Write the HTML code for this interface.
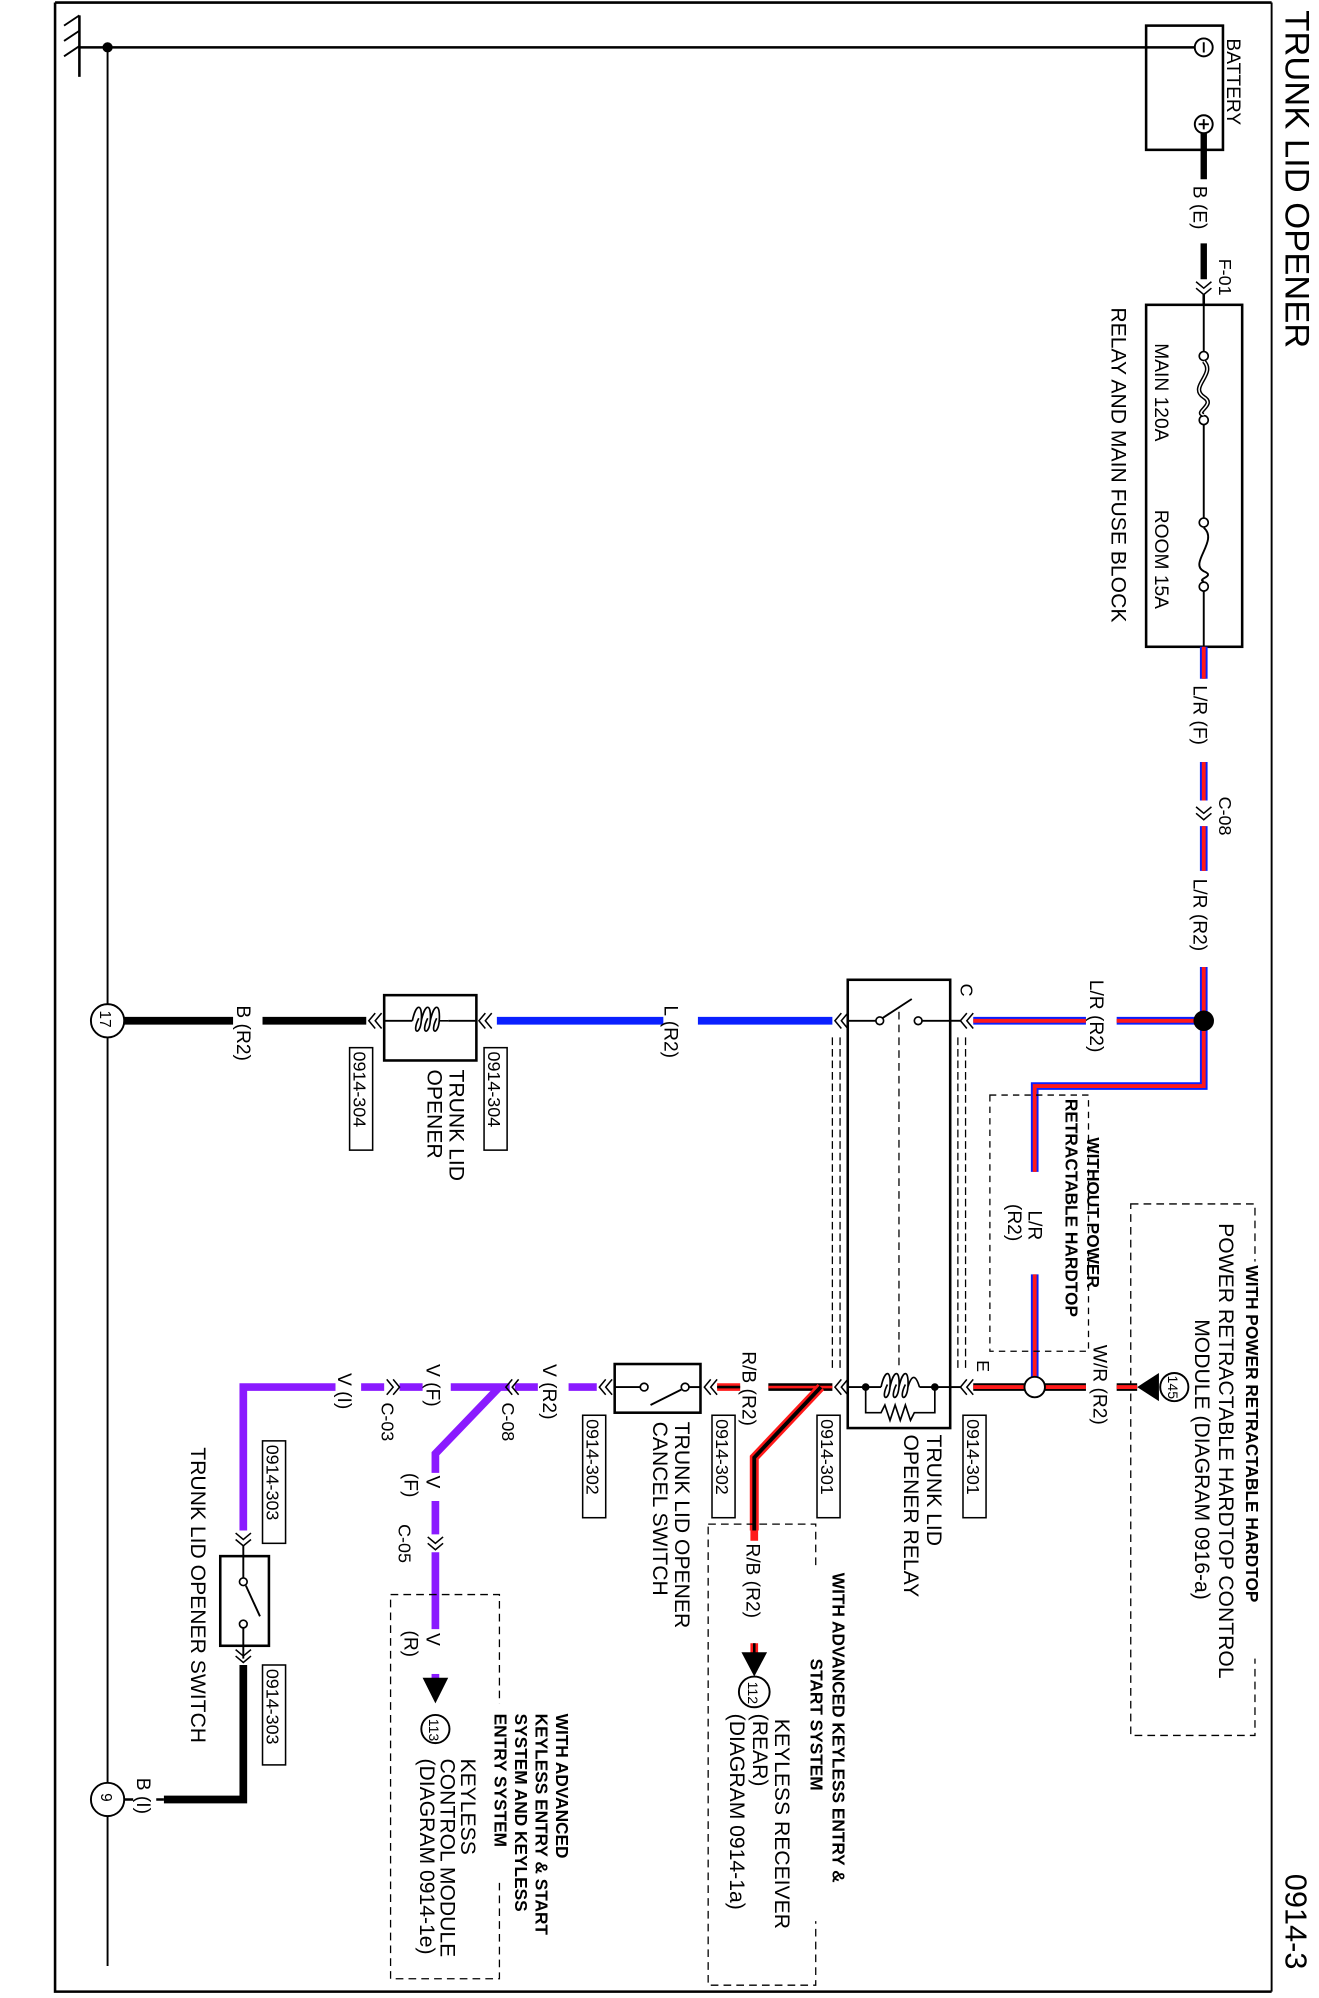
<!DOCTYPE html>
<html><head><meta charset="utf-8"><style>
html,body{margin:0;padding:0;background:#fff;}
svg{display:block;}
text{font-family:"Liberation Sans",sans-serif;fill:#000;}
.b{font-weight:bold;}
</style></head><body>
<svg width="1319" height="1998" viewBox="0 0 1030 1560" preserveAspectRatio="none" xmlns="http://www.w3.org/2000/svg">
<rect x="0" y="0" width="1030" height="1560" fill="#fff"/>
<polyline points="43,2 993,2" stroke="#000" stroke-width="2" fill="none"/>
<polyline points="43,2 43,1555 993,1555" stroke="#000" stroke-width="2" fill="none"/>
<line x1="993" y1="2" x2="993" y2="1555" stroke="#000" stroke-width="1.5"/>
<text transform="translate(1004,8) rotate(90)" font-size="27">TRUNK LID OPENER</text>
<text transform="translate(1004,1463) rotate(90)" font-size="24">0914-3</text>

<line x1="62" y1="12" x2="62" y2="60" stroke="#000" stroke-width="2"/>
<line x1="50" y1="20" x2="62" y2="12" stroke="#000" stroke-width="1.5"/>
<line x1="50" y1="32" x2="62" y2="24" stroke="#000" stroke-width="1.5"/>
<line x1="50" y1="44" x2="62" y2="36" stroke="#000" stroke-width="1.5"/>
<line x1="62" y1="37" x2="940" y2="37" stroke="#000" stroke-width="2"/>
<line x1="84" y1="37" x2="84" y2="1535" stroke="#000" stroke-width="1.5"/>
<circle cx="84" cy="37" r="4" fill="#000"/>

<rect x="895" y="20" width="60" height="97" fill="none" stroke="#000" stroke-width="2"/>
<circle cx="940" cy="37" r="7" fill="#fff" stroke="#000" stroke-width="1.5"/>
<line x1="940" y1="33" x2="940" y2="41" stroke="#000" stroke-width="1.5"/>
<circle cx="940" cy="97" r="7" fill="#fff" stroke="#000" stroke-width="1.5"/>
<line x1="940" y1="93" x2="940" y2="101" stroke="#000" stroke-width="1.5"/>
<line x1="936" y1="97" x2="944" y2="97" stroke="#000" stroke-width="1.5"/>
<text transform="translate(958,30) rotate(90)" font-size="15">BATTERY</text>
<line x1="940" y1="104" x2="940" y2="140" stroke="#000" stroke-width="5"/>
<text transform="translate(932,145) rotate(90)" font-size="15">B (E)</text>
<line x1="940" y1="190" x2="940" y2="218" stroke="#000" stroke-width="5"/>
<path d="M934,220 L940,225 L946,220 M934,225 L940,230 L946,225" fill="none" stroke="#000" stroke-width="1.2"/>
<text transform="translate(952,202) rotate(90)" font-size="14">F-01</text>
<line x1="940" y1="230" x2="940" y2="238" stroke="#000" stroke-width="2"/>

<rect x="895" y="238" width="75" height="267" fill="none" stroke="#000" stroke-width="2"/>
<line x1="940" y1="238" x2="940" y2="275" stroke="#000" stroke-width="1.5"/>
<line x1="940" y1="330" x2="940" y2="405" stroke="#000" stroke-width="1.5"/>
<line x1="940" y1="460" x2="940" y2="505" stroke="#000" stroke-width="1.5"/>
<circle cx="940" cy="278" r="3.5" fill="#fff" stroke="#000" stroke-width="1.3"/>
<circle cx="940" cy="328" r="3.5" fill="#fff" stroke="#000" stroke-width="1.3"/>
<path d="M940,282 C950,292 928,302 940,310 C950,316 932,322 940,324" fill="none" stroke="#000" stroke-width="3.5"/>
<path d="M940,282 C950,292 928,302 940,310 C950,316 932,322 940,324" fill="none" stroke="#fff" stroke-width="1.2"/>
<circle cx="940" cy="408" r="3.5" fill="#fff" stroke="#000" stroke-width="1.3"/>
<circle cx="940" cy="458" r="3.5" fill="#fff" stroke="#000" stroke-width="1.3"/>
<path d="M940,412 C952,422 928,440 940,446 C950,450 934,452 940,454" fill="none" stroke="#000" stroke-width="1.5"/>
<text transform="translate(902,268) rotate(90)" font-size="15">MAIN 120A</text>
<text transform="translate(902,398) rotate(90)" font-size="15">ROOM 15A</text>
<text transform="translate(868,240) rotate(90)" font-size="16.5">RELAY AND MAIN FUSE BLOCK</text>

<g>
<line x1="940" y1="505" x2="940" y2="530" stroke="#0a20ff" stroke-width="6"/>
<line x1="940" y1="505" x2="940" y2="530" stroke="#ff1a1a" stroke-width="3"/>
<line x1="940" y1="595" x2="940" y2="625" stroke="#0a20ff" stroke-width="6"/>
<line x1="940" y1="595" x2="940" y2="625" stroke="#ff1a1a" stroke-width="3"/>
<line x1="940" y1="645" x2="940" y2="680" stroke="#0a20ff" stroke-width="6"/>
<line x1="940" y1="645" x2="940" y2="680" stroke="#ff1a1a" stroke-width="3"/>
<polyline points="940,755 940,848 808,848 808,915" fill="none" stroke="#0a20ff" stroke-width="6"/>
<polyline points="940,755 940,848 808,848 808,915" fill="none" stroke="#ff1a1a" stroke-width="3"/>
<line x1="808" y1="995" x2="808" y2="1076" stroke="#0a20ff" stroke-width="6"/>
<line x1="808" y1="995" x2="808" y2="1076" stroke="#ff1a1a" stroke-width="3"/>
<polyline points="940,797 872,797" stroke="#0a20ff" stroke-width="6"/>
<polyline points="940,797 872,797" stroke="#ff1a1a" stroke-width="3"/>
<polyline points="848,797 760,797" stroke="#0a20ff" stroke-width="6"/>
<polyline points="848,797 760,797" stroke="#ff1a1a" stroke-width="3"/>
</g>
<text transform="translate(932,535) rotate(90)" font-size="15">L/R (F)</text>
<path d="M934,630 L940,635 L946,630 M934,635 L940,640 L946,635" fill="none" stroke="#000" stroke-width="1.2"/>
<text transform="translate(952,622) rotate(90)" font-size="14">C-08</text>
<text transform="translate(932,686) rotate(90)" font-size="15">L/R (R2)</text>
<circle cx="940" cy="797" r="8" fill="#000"/>
<text transform="translate(851,765) rotate(90)" font-size="15">L/R (R2)</text>
<text transform="translate(750,768) rotate(90)" font-size="14">C</text>
<path d="M760,791 L755,797 L760,803 M755,791 L750,797 L755,803" fill="none" stroke="#000" stroke-width="1.2"/>
<line x1="750" y1="797" x2="742" y2="797" stroke="#000" stroke-width="1.5"/>

<rect x="773" y="855" width="77" height="200" fill="none" stroke="#000" stroke-width="1" stroke-dasharray="5,4"/>
<text transform="translate(849,888) rotate(90)" font-size="13.5" class="b">WITHOUT POWER</text>
<text transform="translate(832,858) rotate(90)" font-size="13.5" class="b">RETRACTABLE HARDTOP</text>
<text transform="translate(803,945) rotate(90)" font-size="15">L/R</text>
<text transform="translate(787,940) rotate(90)" font-size="15">(R2)</text>

<rect x="883" y="940" width="97" height="415" fill="none" stroke="#000" stroke-width="1" stroke-dasharray="6,4"/>
<rect x="975" y="985" width="12" height="310" fill="#fff"/>
<text transform="translate(973,988) rotate(90)" font-size="13.5" class="b">WITH POWER RETRACTABLE HARDTOP</text>
<text transform="translate(952,955) rotate(90)" font-size="16.5">POWER RETRACTABLE HARDTOP CONTROL</text>
<text transform="translate(933,1030) rotate(90)" font-size="16.5">MODULE (DIAGRAM 0916-a)</text>
<polygon points="888,1083 905,1072 905,1094" fill="#000"/>
<circle cx="917" cy="1083" r="11" fill="#fff" stroke="#000" stroke-width="1.5"/>
<text transform="translate(912,1074) rotate(90)" font-size="11">145</text>
<line x1="888" y1="1083" x2="872" y2="1083" stroke="#000" stroke-width="6"/>
<line x1="888" y1="1083" x2="872" y2="1083" stroke="#ff1a1a" stroke-width="3"/>
<line x1="848" y1="1083" x2="760" y2="1083" stroke="#000" stroke-width="6"/>
<line x1="848" y1="1083" x2="760" y2="1083" stroke="#ff1a1a" stroke-width="3"/>
<text transform="translate(854,1050) rotate(90)" font-size="15">W/R (R2)</text>
<circle cx="808" cy="1083" r="8" fill="#fff" stroke="#000" stroke-width="1.5"/>
<text transform="translate(763,1062) rotate(90)" font-size="14">E</text>
<path d="M760,1077 L755,1083 L760,1089 M755,1077 L750,1083 L755,1089" fill="none" stroke="#000" stroke-width="1.2"/>
<line x1="750" y1="1083" x2="742" y2="1083" stroke="#000" stroke-width="1.5"/>

<rect x="662" y="765" width="80" height="350" fill="none" stroke="#000" stroke-width="2"/>
<line x1="748" y1="810" x2="748" y2="1070" stroke="#000" stroke-width="1" stroke-dasharray="6,3"/>
<line x1="754" y1="810" x2="754" y2="1070" stroke="#000" stroke-width="1" stroke-dasharray="6,3"/>
<line x1="650" y1="810" x2="650" y2="1070" stroke="#000" stroke-width="1" stroke-dasharray="6,3"/>
<line x1="656" y1="810" x2="656" y2="1070" stroke="#000" stroke-width="1" stroke-dasharray="6,3"/>
<line x1="662" y1="797" x2="684" y2="797" stroke="#000" stroke-width="1.5"/>
<circle cx="687" cy="797" r="3" fill="#fff" stroke="#000" stroke-width="1.3"/>
<line x1="689" y1="795" x2="712" y2="780" stroke="#000" stroke-width="1.5"/>
<circle cx="717" cy="797" r="3" fill="#fff" stroke="#000" stroke-width="1.3"/>
<line x1="720" y1="797" x2="742" y2="797" stroke="#000" stroke-width="1.5"/>
<line x1="702" y1="790" x2="702" y2="1068" stroke="#000" stroke-width="1" stroke-dasharray="6,4"/>
<line x1="662" y1="1083" x2="742" y2="1083" stroke="#000" stroke-width="1.5"/>
<rect x="688" y="1072" width="30" height="20" fill="#fff"/>
<path d="M688,1083 c3,-14 8,-14 7,0 c-1,12 -8,10 -2,-2 M695,1083 c3,-14 8,-14 7,0 c-1,12 -8,10 -2,-2 M702,1083 c3,-14 8,-14 7,0 c-1,12 -8,10 -2,-2 M709,1083 c3,-10 6,-10 9,0" fill="none" stroke="#000" stroke-width="1.3"/>
<circle cx="676" cy="1083" r="3" fill="#000"/><circle cx="730" cy="1083" r="3" fill="#000"/>
<polyline points="676,1083 676,1103 688,1103 691,1097 695,1109 699,1097 703,1109 707,1097 711,1109 714,1103 730,1103 730,1083" fill="none" stroke="#000" stroke-width="1.3"/>
<path d="M662,1077 L657,1083 L662,1089 M657,1077 L652,1083 L657,1089" fill="none" stroke="#000" stroke-width="1.2"/>
<path d="M662,791 L657,797 L662,803 M657,791 L652,797 L657,803" fill="none" stroke="#000" stroke-width="1.2"/>
<text transform="translate(724,1120) rotate(90)" font-size="16.5">TRUNK LID</text>
<text transform="translate(706,1120) rotate(90)" font-size="16.5">OPENER RELAY</text>
<rect x="752" y="1105" width="18" height="80" fill="#fff" stroke="#000" stroke-width="1.2"/>
<text transform="translate(755,1108) rotate(90)" font-size="14">0914-301</text>
<rect x="638" y="1105" width="18" height="80" fill="#fff" stroke="#000" stroke-width="1.2"/>
<text transform="translate(641,1108) rotate(90)" font-size="14">0914-301</text>

<line x1="650" y1="797" x2="545" y2="797" stroke="#0a20ff" stroke-width="6"/>
<line x1="518" y1="797" x2="388" y2="797" stroke="#0a20ff" stroke-width="6"/>
<text transform="translate(519,785) rotate(90)" font-size="15">L (R2)</text>
<path d="M384,791 L379,797 L384,803 M379,791 L374,797 L379,803" fill="none" stroke="#000" stroke-width="1.2"/>
<rect x="300" y="777" width="72" height="51" fill="none" stroke="#000" stroke-width="2"/>
<line x1="300" y1="797" x2="372" y2="797" stroke="#000" stroke-width="1.5"/>
<rect x="322" y="786" width="28" height="20" fill="#fff"/>
<path d="M322,797 c3,-14 8,-14 7,0 c-1,12 -8,10 -2,-2 M329,797 c3,-14 8,-14 7,0 c-1,12 -8,10 -2,-2 M336,797 c3,-14 8,-14 7,0 c-1,12 -8,10 -2,-2 M343,797 l7,0" fill="none" stroke="#000" stroke-width="1.3"/>
<path d="M298,791 L293,797 L298,803 M293,791 L288,797 L293,803" fill="none" stroke="#000" stroke-width="1.2"/>
<rect x="378" y="818" width="18" height="80" fill="#fff" stroke="#000" stroke-width="1.2"/>
<text transform="translate(381,821) rotate(90)" font-size="14">0914-304</text>
<rect x="273" y="818" width="18" height="80" fill="#fff" stroke="#000" stroke-width="1.2"/>
<text transform="translate(276,821) rotate(90)" font-size="14">0914-304</text>
<text transform="translate(351,835) rotate(90)" font-size="16.5">TRUNK LID</text>
<text transform="translate(334,835) rotate(90)" font-size="16.5">OPENER</text>
<line x1="286" y1="797" x2="205" y2="797" stroke="#000" stroke-width="6"/>
<line x1="182" y1="797" x2="96" y2="797" stroke="#000" stroke-width="6"/>
<text transform="translate(185,785) rotate(90)" font-size="15">B (R2)</text>
<circle cx="84" cy="797" r="13" fill="#fff" stroke="#000" stroke-width="1.5"/>
<text transform="translate(78,789) rotate(90)" font-size="12">17</text>

<line x1="650" y1="1083" x2="600" y2="1083" stroke="#000" stroke-width="6"/>
<line x1="650" y1="1083" x2="600" y2="1083" stroke="#ff1a1a" stroke-width="2"/>
<line x1="578" y1="1083" x2="560" y2="1083" stroke="#ff1a1a" stroke-width="6"/>
<line x1="578" y1="1083" x2="560" y2="1083" stroke="#000" stroke-width="2"/>
<polyline points="641,1083 589,1138 589,1195" fill="none" stroke="#ff1a1a" stroke-width="7"/>
<polyline points="641,1083 589,1138 589,1195" fill="none" stroke="#000" stroke-width="3"/>
<line x1="589" y1="1195" x2="589" y2="1203" stroke="#ff1a1a" stroke-width="6"/>
<line x1="589" y1="1283" x2="589" y2="1293" stroke="#ff1a1a" stroke-width="6"/>
<line x1="589" y1="1283" x2="589" y2="1293" stroke="#000" stroke-width="2"/>
<text transform="translate(583,1205) rotate(90)" font-size="15">R/B (R2)</text>
<text transform="translate(580,1055) rotate(90)" font-size="15">R/B (R2)</text>
<polygon points="579,1290 599,1290 589,1309" fill="#000"/>
<circle cx="589" cy="1321" r="12" fill="#fff" stroke="#000" stroke-width="1.5"/>
<text transform="translate(584,1313) rotate(90)" font-size="11">112</text>
<rect x="553" y="1190" width="84" height="360" fill="none" stroke="#000" stroke-width="1" stroke-dasharray="6,4"/>
<rect x="632" y="1225" width="12" height="275" fill="#fff"/>
<text transform="translate(650,1228) rotate(90)" font-size="13.5" class="b">WITH ADVANCED KEYLESS ENTRY &amp;</text>
<text transform="translate(633,1295) rotate(90)" font-size="13.5" class="b">START SYSTEM</text>
<text transform="translate(605,1342) rotate(90)" font-size="16.5">KEYLESS RECEIVER</text>
<text transform="translate(588,1338) rotate(90)" font-size="16.5">(REAR)</text>
<text transform="translate(570,1338) rotate(90)" font-size="16.5">(DIAGRAM  0914-1a)</text>

<path d="M560,1077 L555,1083 L560,1089 M555,1077 L550,1083 L555,1089" fill="none" stroke="#000" stroke-width="1.2"/>
<rect x="480" y="1065" width="67" height="38" fill="none" stroke="#000" stroke-width="2"/>
<line x1="547" y1="1083" x2="538" y2="1083" stroke="#000" stroke-width="1.5"/>
<circle cx="535" cy="1083" r="3" fill="#fff" stroke="#000" stroke-width="1.3"/>
<line x1="532" y1="1085" x2="508" y2="1097" stroke="#000" stroke-width="1.5"/>
<circle cx="503" cy="1083" r="3" fill="#fff" stroke="#000" stroke-width="1.3"/>
<line x1="500" y1="1083" x2="480" y2="1083" stroke="#000" stroke-width="1.5"/>
<rect x="556" y="1105" width="18" height="80" fill="#fff" stroke="#000" stroke-width="1.2"/>
<text transform="translate(559,1108) rotate(90)" font-size="14">0914-302</text>
<rect x="455" y="1105" width="18" height="80" fill="#fff" stroke="#000" stroke-width="1.2"/>
<text transform="translate(458,1108) rotate(90)" font-size="14">0914-302</text>
<text transform="translate(527,1110) rotate(90)" font-size="16.5">TRUNK LID OPENER</text>
<text transform="translate(510,1110) rotate(90)" font-size="16.5">CANCEL SWITCH</text>
<path d="M478,1077 L473,1083 L478,1089 M473,1077 L468,1083 L473,1089" fill="none" stroke="#000" stroke-width="1.2"/>

<g stroke="#8a1aff" fill="none" stroke-width="6">
<line x1="466" y1="1083" x2="444" y2="1083"/>
<line x1="420" y1="1083" x2="402" y2="1083"/>
<line x1="398" y1="1083" x2="352" y2="1083"/>
<line x1="330" y1="1083" x2="312" y2="1083"/>
<line x1="300" y1="1083" x2="282" y2="1083"/>
<polyline points="262,1083 190,1083 190,1195"/>
<polyline points="390,1083 340,1135 340,1150"/>
<line x1="340" y1="1172" x2="340" y2="1198"/>
<line x1="340" y1="1212" x2="340" y2="1272"/>
<line x1="340" y1="1307" x2="340" y2="1312"/>
</g>
<text transform="translate(424,1065) rotate(90)" font-size="15">V (R2)</text>
<path d="M405,1077 L400,1083 L405,1089 M400,1077 L395,1083 L400,1089" fill="none" stroke="#000" stroke-width="1.2"/>
<text transform="translate(392,1095) rotate(90)" font-size="14">C-08</text>
<text transform="translate(333,1065) rotate(90)" font-size="15">V (F)</text>
<path d="M302,1077 L307,1083 L302,1089 M307,1077 L312,1083 L307,1089" fill="none" stroke="#000" stroke-width="1.2"/>
<text transform="translate(298,1095) rotate(90)" font-size="14">C-03</text>
<text transform="translate(264,1072) rotate(90)" font-size="15">V (I)</text>
<text transform="translate(333,1152) rotate(90)" font-size="15">V</text>
<text transform="translate(316,1150) rotate(90)" font-size="15">(F)</text>
<path d="M334,1200 L340,1205 L346,1200 M334,1205 L340,1210 L346,1205" fill="none" stroke="#000" stroke-width="1.2"/>
<text transform="translate(311,1190) rotate(90)" font-size="14">C-05</text>
<text transform="translate(333,1275) rotate(90)" font-size="15">V</text>
<text transform="translate(316,1273) rotate(90)" font-size="15">(R)</text>
<polygon points="330,1310 350,1310 340,1330" fill="#000"/>
<circle cx="340" cy="1350" r="11" fill="#fff" stroke="#000" stroke-width="1.5"/>
<text transform="translate(335,1342) rotate(90)" font-size="11">113</text>
<rect x="305" y="1245" width="85" height="300" fill="none" stroke="#000" stroke-width="1" stroke-dasharray="6,4"/>
<rect x="380" y="1330" width="12" height="140" fill="#fff"/>
<text transform="translate(434,1338) rotate(90)" font-size="13.5" class="b">WITH ADVANCED</text>
<text transform="translate(418,1338) rotate(90)" font-size="13.5" class="b">KEYLESS ENTRY &amp; START</text>
<text transform="translate(402,1338) rotate(90)" font-size="13.5" class="b">SYSTEM AND KEYLESS</text>
<text transform="translate(386,1338) rotate(90)" font-size="13.5" class="b">ENTRY SYSTEM</text>
<text transform="translate(360,1373) rotate(90)" font-size="16.5">KEYLESS</text>
<text transform="translate(344,1373) rotate(90)" font-size="16.5">CONTROL MODULE</text>
<text transform="translate(328,1373) rotate(90)" font-size="16.5">(DIAGRAM 0914-1e)</text>

<path d="M184,1197 L190,1202 L196,1197 M184,1202 L190,1207 L196,1202" fill="none" stroke="#000" stroke-width="1.2"/>
<rect x="172" y="1215" width="38" height="70" fill="none" stroke="#000" stroke-width="2"/>
<line x1="190" y1="1207" x2="190" y2="1232" stroke="#000" stroke-width="1.5"/>
<circle cx="190" cy="1235" r="3" fill="#fff" stroke="#000" stroke-width="1.3"/>
<line x1="192" y1="1238" x2="203" y2="1262" stroke="#000" stroke-width="1.5"/>
<circle cx="190" cy="1268" r="3" fill="#fff" stroke="#000" stroke-width="1.3"/>
<line x1="190" y1="1271" x2="190" y2="1295" stroke="#000" stroke-width="1.5"/>
<path d="M184,1288 L190,1293 L196,1288 M184,1293 L190,1298 L196,1293" fill="none" stroke="#000" stroke-width="1.2"/>
<rect x="205" y="1125" width="18" height="80" fill="#fff" stroke="#000" stroke-width="1.2"/>
<text transform="translate(208,1128) rotate(90)" font-size="14">0914-303</text>
<rect x="205" y="1300" width="18" height="78" fill="#fff" stroke="#000" stroke-width="1.2"/>
<text transform="translate(208,1303) rotate(90)" font-size="14">0914-303</text>
<text transform="translate(149,1130) rotate(90)" font-size="16.5">TRUNK LID OPENER SWITCH</text>
<polyline points="190,1300 190,1405 128,1405" fill="none" stroke="#000" stroke-width="6"/>
<line x1="128" y1="1405" x2="97" y2="1405" stroke="#000" stroke-width="2"/>
<rect x="104" y="1386" width="18" height="40" fill="#fff"/>
<text transform="translate(107,1388) rotate(90)" font-size="15">B (I)</text>
<circle cx="84" cy="1405" r="13" fill="#fff" stroke="#000" stroke-width="1.5"/>
<text transform="translate(79,1400) rotate(90)" font-size="12">9</text>
</svg>
</body></html>
